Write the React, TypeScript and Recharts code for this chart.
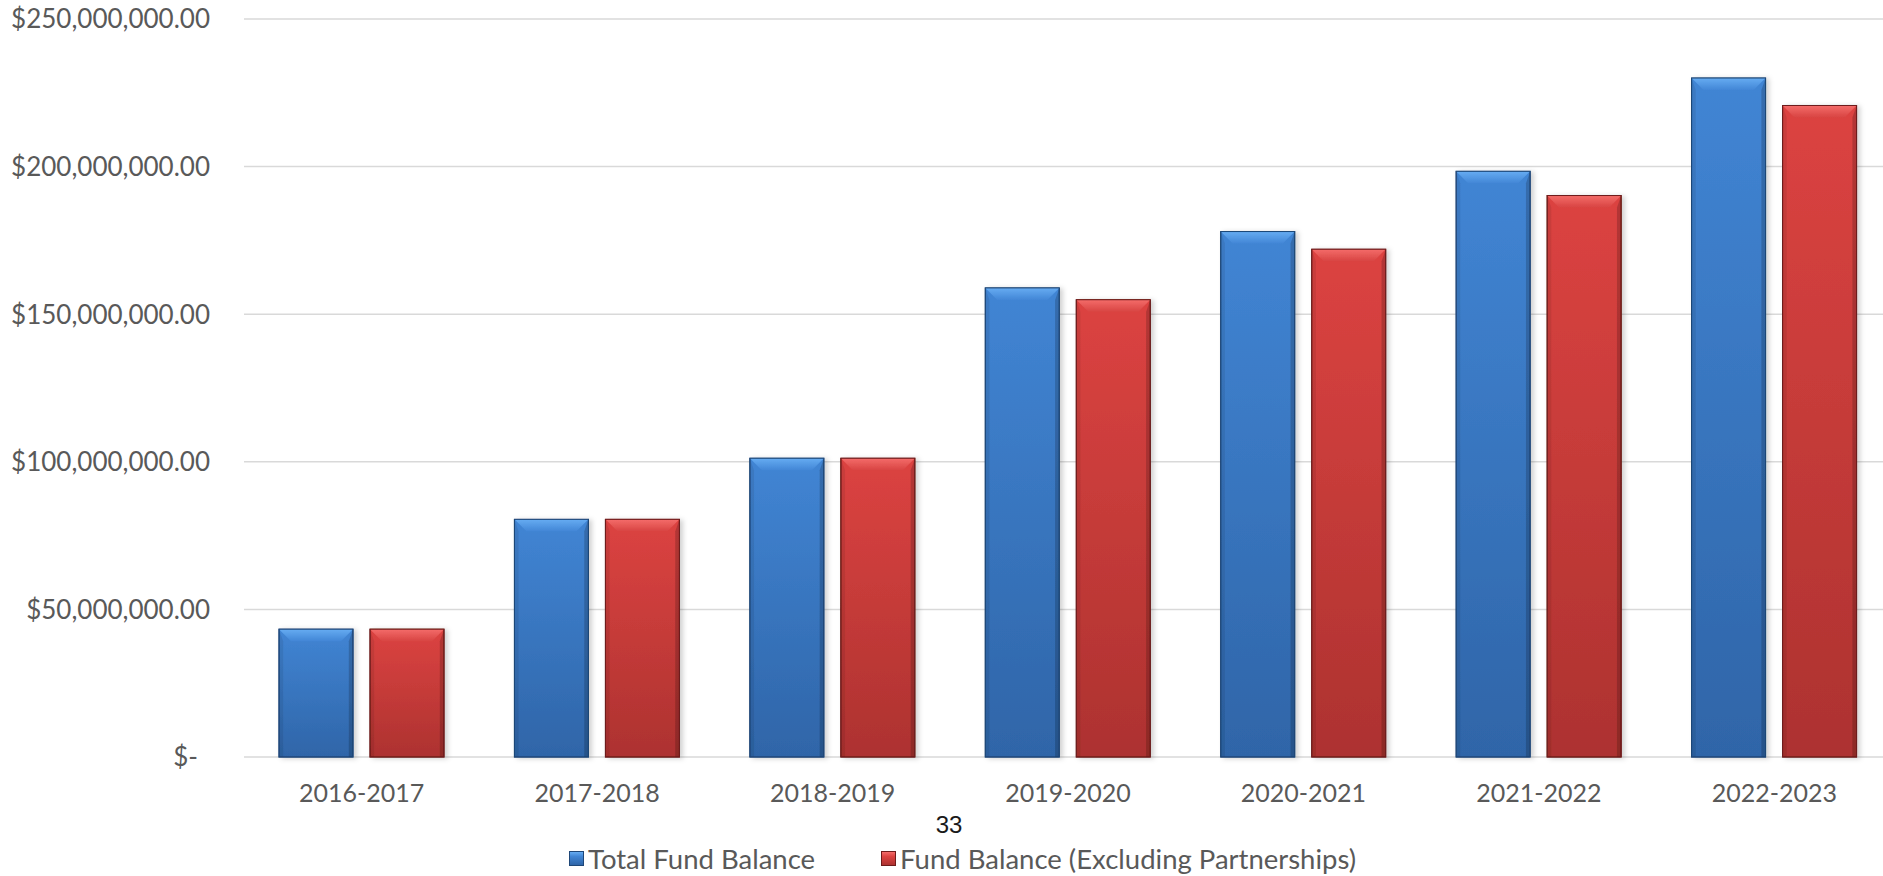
import { BarChart, Bar, XAxis, YAxis, CartesianGrid, Legend } from 'recharts';

const categories = ['2016-2017', '2017-2018', '2018-2019', '2019-2020', '2020-2021', '2021-2022', '2022-2023'];
const totalFundBalance = [43.3e6, 80.5e6, 101.2e6, 158.9e6, 178.0e6, 198.4e6, 230.0e6];
const fundBalanceExclPartnerships = [43.3e6, 80.5e6, 101.2e6, 154.9e6, 172.0e6, 190.2e6, 220.7e6];
const yTicks = [0, 50e6, 100e6, 150e6, 200e6, 250e6];
const seriesNames = ['Total Fund Balance', 'Fund Balance (Excluding Partnerships)'];
const pageNumber = '33';

const data = categories.map((c, i) => ({
  year: c,
  total: totalFundBalance[i],
  excl: fundBalanceExclPartnerships[i],
}));

const LABEL_COLOR = '#595959';
const FONT = 'Lato, "Open Sans", sans-serif';

const palettes = {
  blue: { top: '#66acf2', topEnd: '#4286d6', bodyA: '#4185d4', bodyB: '#2f65a8', edge: '#1f4778' },
  red: { top: '#f46c6a', topEnd: '#d84442', bodyA: '#dc4341', bodyB: '#ad3230', edge: '#6e1c1b' },
};

function BevelBar(props: any) {
  const { x, y, width, height, kind } = props;
  if (!height || height <= 0) return null;
  const b = Math.min(12, height / 2);
  const id = kind;
  const p = palettes[kind as 'blue' | 'red'];
  return (
    <g filter="url(#barShadow)">
      <rect x={x} y={y} width={width} height={height} fill={`url(#body-${id})`} stroke={p.edge} strokeWidth={1} />
      <polygon
        points={`${x},${y} ${x + width},${y} ${x + width - b},${y + b} ${x + b},${y + b}`}
        fill={`url(#top-${id})`}
      />
      <polygon
        points={`${x},${y} ${x + b * 0.35},${y + b} ${x + b * 0.35},${y + height} ${x},${y + height}`}
        fill="rgba(0,0,0,0.08)"
      />
      <polygon
        points={`${x + width},${y} ${x + width - b * 0.35},${y + b} ${x + width - b * 0.35},${y + height} ${x + width},${y + height}`}
        fill="rgba(0,0,0,0.18)"
      />
      <rect x={x} y={y} width={width} height={height} fill="none" stroke={p.edge} strokeWidth={1} />
    </g>
  );
}

function YTick(props: any) {
  const { y, payload } = props;
  const v = payload.value as number;
  const label = v === 0 ? '$-' : '$' + v.toLocaleString('en-US', { minimumFractionDigits: 2, maximumFractionDigits: 2 });
  return (
    <text x={v === 0 ? 198 : 210} y={y} dy="0.36em" textAnchor="end" fill={LABEL_COLOR} fontSize={26} fontFamily={FONT}>
      {label}
    </text>
  );
}

function XTick(props: any) {
  const { x, y, payload } = props;
  return (
    <text x={x} y={y + 45} textAnchor="middle" fill={LABEL_COLOR} fontSize={25} fontFamily={FONT}>
      {payload.value}
    </text>
  );
}

function Marker({ kind }: { kind: 'blue' | 'red' }) {
  const p = palettes[kind];
  return (
    <span
      style={{
        display: 'inline-block',
        width: 15,
        height: 15,
        boxSizing: 'border-box',
        border: `1px solid ${p.edge}`,
        background: `linear-gradient(to bottom, ${p.top} 0%, ${p.bodyA} 35%, ${p.bodyB} 100%)`,
        marginRight: 4,
      }}
    />
  );
}

function LegendContent() {
  return (
    <div style={{ position: 'relative', height: 70, fontFamily: FONT }}>
      <div
        style={{
          position: 'absolute',
          left: 949,
          top: 5,
          transform: 'translateX(-50%)',
          fontFamily: '"Liberation Sans", Arial, sans-serif',
          fontSize: 24,
          color: '#1a1a1a',
        }}
      >
        {pageNumber}
      </div>
      <div
        style={{
          position: 'absolute',
          left: 569,
          top: 36,
          display: 'flex',
          alignItems: 'center',
          fontSize: 27.5,
          color: LABEL_COLOR,
          whiteSpace: 'nowrap',
        }}
      >
        <Marker kind="blue" />
        <span>{seriesNames[0]}</span>
        <span style={{ width: 66 }} />
        <Marker kind="red" />
        <span>{seriesNames[1]}</span>
      </div>
    </div>
  );
}

export default function App() {
  return (
    <div style={{ position: 'fixed', left: 0, top: 0, width: 1883, height: 876, overflow: 'hidden', background: '#fff' }}>
      <BarChart
        width={1892}
        height={876}
        data={data}
        margin={{ top: 19, right: 0, left: 0, bottom: 0 }}
        barSize={74}
        barGap={17}
      >
        <defs>
          {(['blue', 'red'] as const).map((k) => (
            <g key={k}>
              <linearGradient id={`body-${k}`} x1="0" y1="0" x2="0" y2="1">
                <stop offset="0%" stopColor={palettes[k].bodyA} />
                <stop offset="100%" stopColor={palettes[k].bodyB} />
              </linearGradient>
              <linearGradient id={`top-${k}`} x1="0" y1="0" x2="0" y2="1">
                <stop offset="0%" stopColor={palettes[k].top} />
                <stop offset="100%" stopColor={palettes[k].topEnd} />
              </linearGradient>
            </g>
          ))}
          <filter id="barShadow" x="-20%" y="-5%" width="140%" height="110%">
            <feDropShadow dx="3" dy="1" stdDeviation="2.5" floodColor="#000" floodOpacity="0.18" />
          </filter>
        </defs>
        <CartesianGrid horizontal vertical={false} stroke="#d9d9d9" strokeWidth={1.5} />
        <XAxis dataKey="year" axisLine={false} tickLine={false} tickSize={0} tickMargin={0} height={119} tick={<XTick />} interval={0} />
        <YAxis
          width={244}
          domain={[0, 250e6]}
          ticks={yTicks}
          axisLine={false}
          tickLine={false}
          tick={<YTick />}
          interval={0}
        />
        <Legend
          verticalAlign="middle"
          align="center"
          layout="horizontal"
          wrapperStyle={{ top: 806, left: 0, width: 1892 }}
          content={<LegendContent />}
        />
        <Bar dataKey="total" name={seriesNames[0]} isAnimationActive={false} shape={(p: any) => <BevelBar {...p} kind="blue" />} />
        <Bar dataKey="excl" name={seriesNames[1]} isAnimationActive={false} shape={(p: any) => <BevelBar {...p} kind="red" />} />
      </BarChart>
    </div>
  );
}
